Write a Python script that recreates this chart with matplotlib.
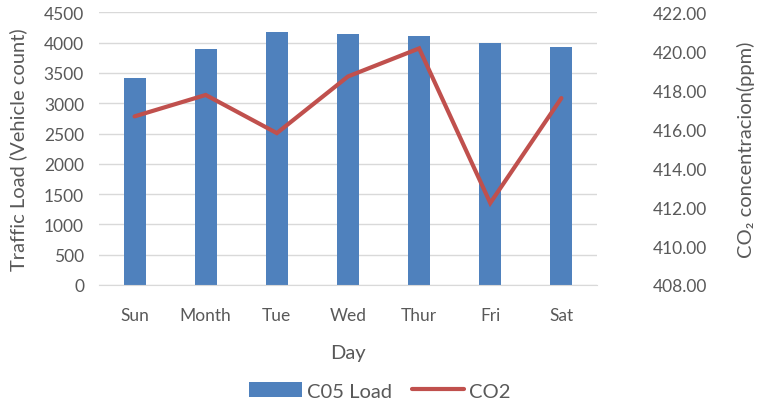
import matplotlib
matplotlib.use('Agg')
import matplotlib.pyplot as plt
import numpy as np

plt.rcParams['font.family'] = ['Lato', 'DejaVu Sans']

days = ['Sun', 'Month', 'Tue', 'Wed', 'Thur', 'Fri', 'Sat']
load = [3410, 3890, 4170, 4140, 4105, 4000, 3925]
co2 = [416.66, 417.76, 415.80, 418.71, 420.15, 412.21, 417.60]

grey = '#595959'
x = np.arange(len(days))

fig = plt.figure(figsize=(7.57, 4.06), dpi=100)
ax = fig.add_axes([0.1308, 0.2956, 0.6578, 0.6714])
ax2 = ax.twinx()

bars = ax.bar(x, load, width=0.31, color='#4F81BD', label='C05 Load', zorder=2)
line, = ax2.plot(x, co2, color='#C0504D', lw=3, solid_capstyle='round',
                 solid_joinstyle='miter', label='CO2', zorder=3)

ax.set_xlim(-0.5, len(days) - 0.5)
ax.set_ylim(0, 4500)
ax.set_yticks(np.arange(0, 4501, 500))
ax2.set_ylim(408, 422)
ax2.set_yticks(np.arange(408, 422.1, 2))
ax2.set_yticklabels(['%.2f' % v for v in np.arange(408, 422.1, 2)])

ax.set_xticks(x)
ax.set_xticklabels(days)
ax.yaxis.grid(True, color='#d9d9d9', lw=1)
ax.set_axisbelow(True)

for a in (ax, ax2):
    for s in a.spines.values():
        s.set_visible(False)
ax.spines['bottom'].set_visible(True)
ax.spines['bottom'].set_color('#d9d9d9')

ax.tick_params(axis='y', length=0, pad=10.8, labelsize=12.5, labelcolor=grey)
ax.tick_params(axis='x', length=0, pad=16, labelsize=12.5, labelcolor=grey)
ax2.tick_params(axis='y', length=0, pad=40, labelsize=12.5, labelcolor=grey)
for lbl in ax2.get_yticklabels():
    lbl.set_horizontalalignment('left')

ax.set_ylabel('Traffic Load (Vehicle count)', fontsize=14.5, color=grey)
ax.yaxis.set_label_coords(-0.145, 0.5)
ax2.set_ylabel('CO₂ concentracion(ppm)', fontsize=14.5, color=grey, rotation=90)
ax2.yaxis.set_label_coords(1.281, 0.5)
ax.set_xlabel('Day', fontsize=14.5, color=grey, labelpad=15)

fig.legend([bars, line], ['C05 Load', 'CO2'], loc='center', bbox_to_anchor=(0.502, 0.035),
           ncol=2, frameon=False, fontsize=14.5, labelcolor=grey,
           handlelength=2.6, handleheight=0.8, columnspacing=1.0, handletextpad=0.25)

plt.savefig('out.png', dpi=100)
